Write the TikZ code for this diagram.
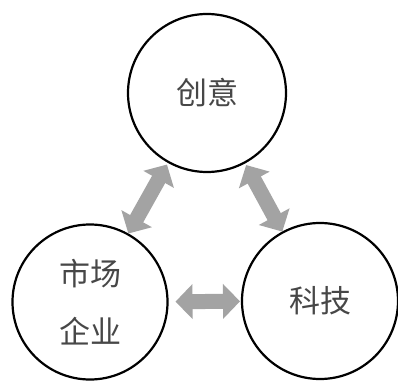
\documentclass[tikz,border=0pt]{standalone}
\usepackage{fontspec}
\newfontfamily\cjk{Noto Sans CJK SC}
\usetikzlibrary{arrows.meta}
\tikzset{
  bubble/.style={circle, draw=black, line width=2.2pt, minimum size=#1, inner sep=0pt, outer sep=0pt,
    font=\cjk\fontsize{31}{40}\selectfont, text=black!72},
  link/.style={draw=black!36, line width=15pt,
    {Triangle[width=34pt,length=17pt]}-{Triangle[width=34pt,length=17pt]}},
}
\begin{document}
\begin{tikzpicture}[x=1pt,y=-1pt]
\useasboundingbox (0,0) rectangle (398,387);
\fill[white] (0,0) rectangle (398,387);
\node[bubble=158pt] (top) at (207,93) {创意};
\node[bubble=155pt, align=center, font=\cjk\fontsize{31}{58}\selectfont] (mkt) at (90,302) {市场\\企业};
\node[bubble=156pt] (tech) at (320,301) {科技};
\draw[link, shorten <=1pt, shorten >=3pt] (mkt) -- (top);
\draw[link, shorten <=3pt, shorten >=1pt] (top) -- (tech);
\draw[link, shorten <=8pt, shorten >=2pt] (mkt) -- (tech);
\end{tikzpicture}
\end{document}
